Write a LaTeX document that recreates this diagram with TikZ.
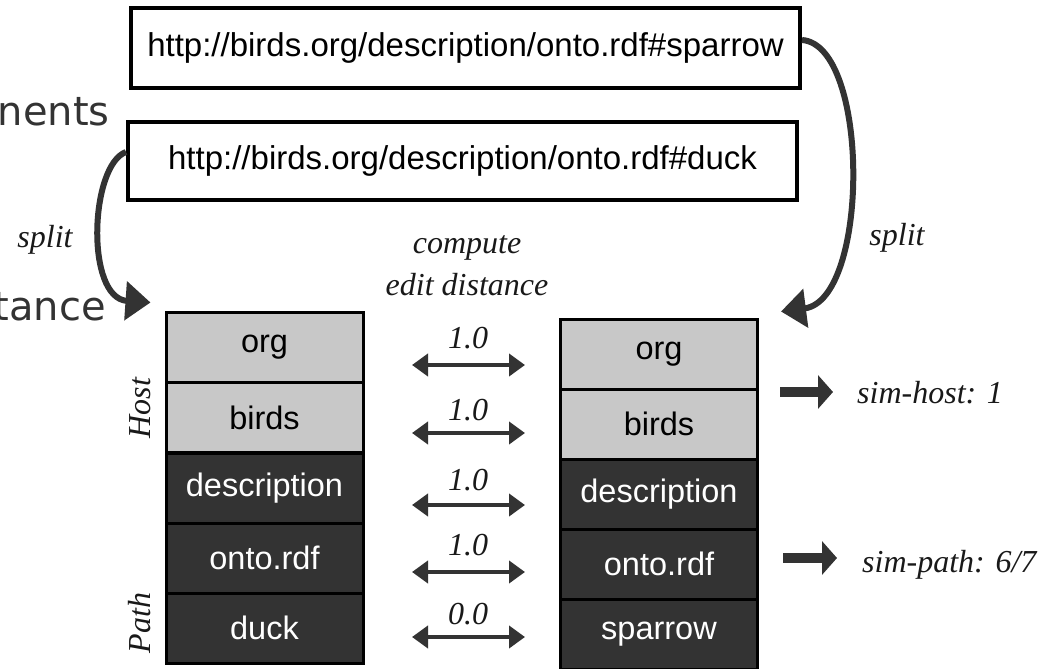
\documentclass[tikz,border=0pt]{standalone}
\usepackage{fontspec}
\setmainfont{Liberation Serif}
\newfontfamily\cellfont{Liberation Sans}
\newfontfamily\slidefont{DejaVu Sans}
\usetikzlibrary{arrows.meta,calc}
\definecolor{ink}{HTML}{333333}
\definecolor{hostgray}{HTML}{C8C8C8}
\begin{document}
\begin{tikzpicture}[x=1pt,y=-1pt,
  urlbox/.style={draw=black,line width=4pt,fill=white,inner sep=0pt,
    font=\cellfont\fontsize{33}{39}\selectfont},
  hostcell/.style={draw=black,line width=3pt,fill=hostgray,minimum width=197pt,
    minimum height=70pt,inner sep=0pt,font=\cellfont\fontsize{32.5}{38}\selectfont,text=black},
  pathcell/.style={hostcell,fill=ink,text=white},
  notetext/.style={font=\itshape\fontsize{32}{38}\selectfont,inner sep=0pt,text=black!90},
  fragtext/.style={font=\slidefont\fontsize{40}{48}\selectfont,text=ink,inner sep=0pt,anchor=base east},
  dpair/.style={line width=4.5pt,draw=ink,
    {Triangle[length=16pt,width=22pt]}-{Triangle[length=16pt,width=22pt]}},
  splitarrow/.style={line width=6pt,draw=ink,-{Triangle[length=25pt,width=38pt]}},
  fatarrow/.style={line width=10pt,draw=ink,-{Triangle[length=15pt,width=33pt]}},
]
\useasboundingbox (0,0) rectangle (1039,669);
\clip (0,0) rectangle (1039,669);

% fragments of neighbouring slide text
\node[fragtext] (frag1) at (110,125) {nents};
\node[fragtext] (frag2) at (106,320) {tance};

% the two URIs
\node[urlbox,minimum width=669pt,minimum height=80pt] (sparrow) at (465.5,48)
  {http://birds.org/description/onto.rdf\#sparrow};
\node[urlbox,minimum width=669pt,minimum height=78pt] (duck) at (462.5,161)
  {http://birds.org/description/onto.rdf\#duck};

% left token stack (duck)
\node[hostcell] (l1) at (264.5,347) {org};
\node[hostcell] (l2) at (264.5,417.5) {birds};
\node[pathcell] (l3) at (264.5,488) {description};
\node[pathcell] (l4) at (264.5,558) {onto.rdf};
\node[pathcell] (l5) at (264.5,628) {duck};

% right token stack (sparrow)
\node[hostcell] (r1) at (659,354) {org};
\node[hostcell] (r2) at (659,424) {birds};
\node[pathcell] (r3) at (659,494) {description};
\node[pathcell] (r4) at (659,564) {onto.rdf};
\node[pathcell] (r5) at (659,634) {sparrow};

% group labels
\node[notetext,rotate=90] (host) at (140,408) {Host};
\node[notetext,rotate=90] (path) at (140,623) {Path};

% split arrows
\node[notetext,anchor=base] (splitl) at (45,247) {split};
\node[notetext,anchor=base] (splitr) at (897,245) {split};
\draw[splitarrow] ([yshift=9pt]duck.west) .. controls (90,165) and (85,298) ..
  ($(l1.north west)+(-14,-8)$);
\draw[splitarrow] ([yshift=8pt]sparrow.east) .. controls (870,45) and (870,300) ..
  ($(r1.north east)+(22,-6)$);

% edit distance column
\node[notetext,anchor=base] (cmp1) at (467,253) {compute};
\node[notetext,anchor=base] (cmp2) at (467,295) {edit distance};

\node[notetext,anchor=base] (d1) at (468,348) {1.0};
\node[notetext,anchor=base] (d2) at (468,420) {1.0};
\node[notetext,anchor=base] (d3) at (468,490) {1.0};
\node[notetext,anchor=base] (d4) at (468,555) {1.0};
\node[notetext,anchor=base] (d5) at (468,624) {0.0};

\coordinate (p1l) at (412,365); \coordinate (p1r) at (525,365);
\coordinate (p2l) at (412,433); \coordinate (p2r) at (525,433);
\coordinate (p3l) at (412,505); \coordinate (p3r) at (525,505);
\coordinate (p4l) at (412,572); \coordinate (p4r) at (525,572);
\coordinate (p5l) at (412,637); \coordinate (p5r) at (525,637);
\draw[dpair] (p1l) -- (p1r);
\draw[dpair] (p2l) -- (p2r);
\draw[dpair] (p3l) -- (p3r);
\draw[dpair] (p4l) -- (p4r);
\draw[dpair] (p5l) -- (p5r);

% similarity results
\node[notetext,anchor=base west] (simhost) at (857,403) {sim-host: 1};
\node[notetext,anchor=base west] (simpath) at (862,572) {sim-path: 6/7};
\coordinate (h0) at (780,392);
\coordinate (h1) at (833,392);
\coordinate (s0) at (783,558);
\coordinate (s1) at (837,558);
\draw[fatarrow] (h0) -- (h1);
\draw[fatarrow] (s0) -- (s1);
\end{tikzpicture}
\end{document}
